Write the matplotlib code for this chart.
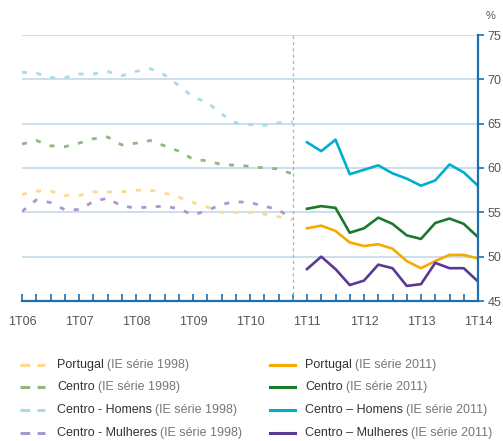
import matplotlib.pyplot as plt
from matplotlib.lines import Line2D
import numpy as np

plt.rcParams['font.family'] = ['Liberation Sans', 'DejaVu Sans']

# trimestres: 0 = 1T06 ... 32 = 1T14
q_1998 = np.arange(0, 20)
q_2011 = np.arange(20, 33)
tick_pos = [0, 4, 8, 12, 16, 20, 24, 28, 32]
tick_lab = ['1T06', '1T07', '1T08', '1T09', '1T10', '1T11', '1T12', '1T13', '1T14']

# IE série 1998
portugal_98 = [57.0, 57.4, 57.4, 56.9, 56.9, 57.3, 57.3, 57.3, 57.5, 57.5,
               57.2, 56.7, 56.1, 55.6, 55.0, 55.0, 55.0, 54.8, 54.5, 54.2]
centro_98 = [62.7, 63.1, 62.5, 62.4, 62.8, 63.3, 63.5, 62.6, 62.8, 63.1,
             62.5, 61.9, 61.0, 60.8, 60.4, 60.3, 60.2, 60.0, 59.9, 59.3]
homens_98 = [70.8, 70.7, 70.2, 70.2, 70.6, 70.6, 70.9, 70.4, 70.9, 71.2,
             70.5, 69.3, 68.0, 67.4, 66.1, 65.1, 64.9, 64.8, 65.1, 65.2]
mulheres_98 = [55.1, 56.4, 56.1, 55.3, 55.3, 56.2, 56.6, 55.7, 55.5, 55.6,
               55.7, 55.4, 54.7, 55.2, 55.9, 56.2, 56.1, 55.7, 55.3, 54.2]

# IE série 2011
portugal_11 = [53.2, 53.5, 52.9, 51.6, 51.2, 51.4, 50.9, 49.5, 48.7, 49.5, 50.2, 50.2, 49.8]
centro_11 = [55.4, 55.7, 55.5, 52.7, 53.2, 54.4, 53.7, 52.4, 52.0, 53.8, 54.3, 53.7, 52.2]
homens_11 = [62.9, 61.9, 63.2, 59.3, 59.8, 60.3, 59.4, 58.8, 58.0, 58.6, 60.4, 59.5, 58.0]
mulheres_11 = [48.6, 50.0, 48.6, 46.8, 47.3, 49.1, 48.7, 46.7, 46.9, 49.3, 48.7, 48.7, 47.2]

nomes = ['Portugal', 'Centro', 'Centro - Homens', 'Centro - Mulheres']
nomes_11 = ['Portugal', 'Centro', 'Centro \u2013 Homens', 'Centro \u2013 Mulheres']
cores_98 = ['#FDD98C', '#8DB87F', '#A8DAEA', '#A898D0']
cores_11 = ['#F6AA00', '#1A7A2C', '#00AECF', '#5A3A90']

eixo = '#1F6FAE'
grelha = '#C9DCEA'

fig = plt.figure(figsize=(5.03, 4.41), dpi=100)
ax = fig.add_axes([22 / 503, 1 - 301 / 441, 456 / 503, 266 / 441])

for ys, c in zip([homens_98, centro_98, portugal_98, mulheres_98],
                 [cores_98[2], cores_98[1], cores_98[0], cores_98[3]]):
    ax.plot(q_1998, ys, color=c, lw=2.0, dashes=(1.8, 3.4), solid_capstyle='butt')
for ys, c in zip([homens_11, centro_11, portugal_11, mulheres_11],
                 [cores_11[2], cores_11[1], cores_11[0], cores_11[3]]):
    ax.plot(q_2011, ys, color=c, lw=1.9)

ax.axvline(19, color='#86BDE6', lw=0.9, ls=(0, (2.5, 2.5)))

ax.set_xlim(0, 32)
ax.set_ylim(45, 75)
ax.set_yticks(range(45, 80, 5))
for v in range(50, 80, 5):
    ax.axhline(v, color=grelha, lw=1.3, zorder=0)

ax.yaxis.tick_right()
ax.set_xticks(tick_pos)
ax.set_xticklabels(tick_lab)
ax.set_xticks(range(33), minor=True)
ax.tick_params(axis='x', which='both', direction='in', length=5, width=1.2,
               color=eixo, labelsize=9, labelcolor='#555555', pad=11)
ax.tick_params(axis='y', direction='out', length=4, width=1.2, color=eixo,
               labelsize=9, labelcolor='#555555', pad=3)

for s in ['top', 'left']:
    ax.spines[s].set_visible(False)
for s in ['bottom', 'right']:
    ax.spines[s].set_color(eixo)
    ax.spines[s].set_linewidth(1.6)

fig.text(486 / 503, 1 - 16 / 441, '%', fontsize=8, color='#555555', ha='left', va='center')

# legenda: nome a escuro, serie a cinzento
rend = fig.canvas.get_renderer()


def entrada(x, y, nome, serie):
    t = fig.text(x, y, nome, fontsize=9, color='#333333', va='center')
    bb = t.get_window_extent(rend).transformed(fig.transFigure.inverted())
    fig.text(bb.x1 + 3 / 503, y, serie, fontsize=9, color='#777777', va='center')


linhas_y = [365, 387, 410, 433]
for i in range(4):
    yf = 1 - linhas_y[i] / 441
    fig.add_artist(Line2D([20 / 503, 45 / 503], [yf, yf], color=cores_98[i], lw=2.2,
                          dashes=(3.2, 2.4)))
    entrada(57 / 503, yf, nomes[i], '(IE série 1998)')
    fig.add_artist(Line2D([270 / 503, 295 / 503], [yf, yf], color=cores_11[i], lw=2.2))
    entrada(305 / 503, yf, nomes_11[i], '(IE série 2011)')

fig.savefig('out.png', dpi=100)
